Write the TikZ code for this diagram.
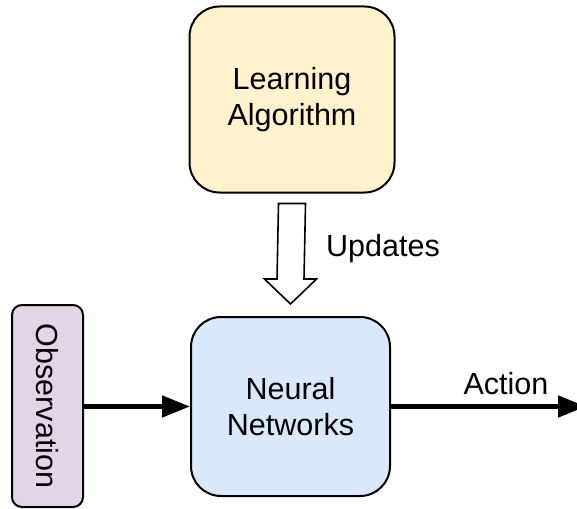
\documentclass[tikz,border=0pt]{standalone}
\usepackage{fontspec}
\setmainfont{Liberation Sans}
\usetikzlibrary{arrows.meta,calc}
\definecolor{yelfill}{HTML}{FFF2CC}
\definecolor{bluefill}{HTML}{DAE8FC}
\definecolor{purfill}{HTML}{E1D5E7}
\begin{document}
\begin{tikzpicture}[x=1pt,y=-1pt,
  box/.style={draw=black, line width=2pt, rounded corners=30pt, align=center,
    font=\fontsize{30.5}{36}\selectfont, inner sep=0pt},
  lbl/.style={font=\fontsize{30.5}{36}\selectfont, inner sep=0pt},
  conn/.style={line width=4.8pt, -{Triangle[length=28pt,width=21pt]}}]
\useasboundingbox (0,0) rectangle (577,508);
\clip (0,0) rectangle (577,508);
\node[box, fill=yelfill, minimum width=205pt, minimum height=186pt] (learn) at (292,99.5) {Learning\\Algorithm};
\node[box, fill=bluefill, minimum width=199pt, minimum height=179pt] (nn) at (290.5,406.5) {Neural\\Networks};
\node[box, fill=purfill, rounded corners=10pt, minimum width=71pt, minimum height=202pt] (obs) at (47.5,406) {};
\node[lbl, rotate=-90] (obstxt) at (obs.center) {Observation};
\coordinate (act) at (586,406.5);
\draw[conn] (obs.east |- nn.west) -- (nn.west);
\draw[conn] (nn.east) -- (act);
\node[lbl, anchor=south] (actlbl) at (506,395) {Action};
% hollow arrow
\coordinate (ua) at ($(learn.south)+(0,10)$);
\coordinate (ub) at ($(nn.north)+(0,-12)$);
\draw[line width=1.6pt, fill=white, line join=miter]
  ($(ua)+(-13.5,0)$) -- ($(ua)+(13.5,0)$) -- ($(ub)+(13.5,-25)$) -- ($(ub)+(26,-25)$)
  -- (ub) -- ($(ub)+(-26,-25)$) -- ($(ub)+(-13.5,-25)$) -- cycle;
\node[lbl, anchor=west] (upd) at (326,249) {Updates};
\end{tikzpicture}
\end{document}
